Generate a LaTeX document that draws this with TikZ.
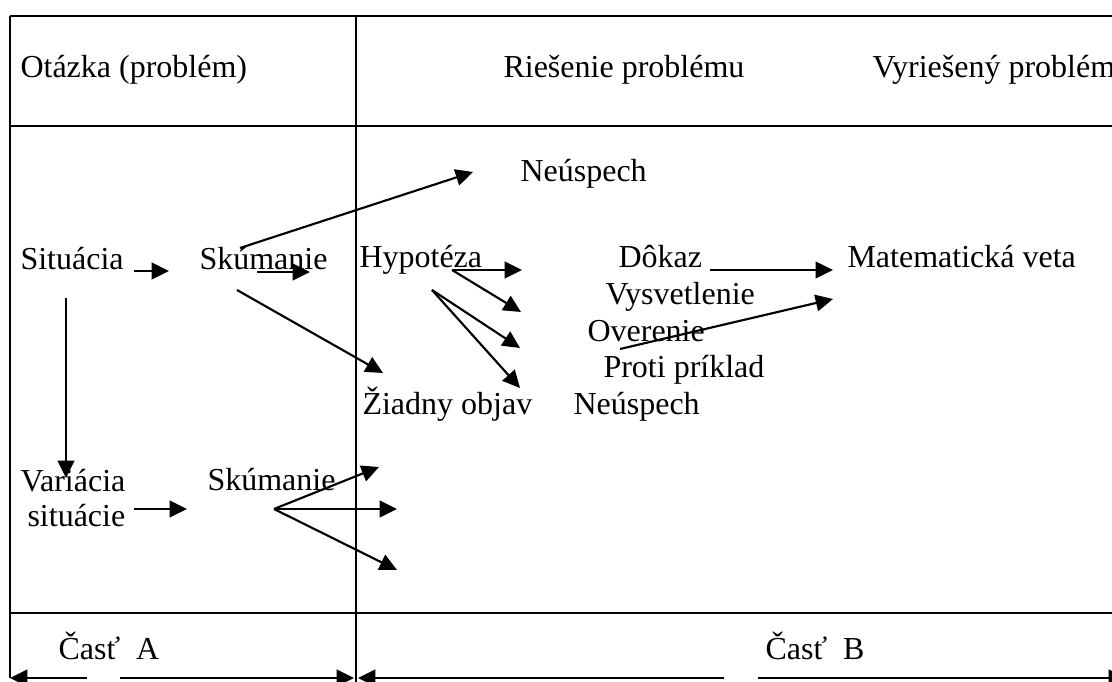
\documentclass[tikz,border=0pt]{standalone}
\usepackage{fontspec}
\setmainfont{Liberation Serif}
\usetikzlibrary{arrows.meta}
\usetikzlibrary{calc}

\begin{document}
\begin{tikzpicture}[x=0.375pt, y=-0.375pt,
    every node/.style={anchor=base west, inner sep=0pt, font=\fontsize{12}{14}\selectfont},
    arr/.style={-{Triangle[length=6.5pt, width=6.2pt]}, line width=0.8pt},
    rule/.style={line width=1pt}]

      \clip (0,0) rectangle (1112,682);

      % table frame
      \draw[rule] (10,16) -- (1120,16);
      \draw[rule] (10,126) -- (1120,126);
      \draw[rule] (10,613) -- (1120,613);
      \draw[rule] (10,16) -- (10,678);
      \draw[rule] (356,16) -- (356,690);

      % header row
      \node (otazka) at (20,78) {Otázka (problém)};
      \node (riesenie) at (503,78) {Riešenie problému};
      \node (vyrieseny) at (872,78) {Vyriešený problém};

      % part A
      \node (situacia) at (20,270) {Situácia};
      \node (skumanie1) at (199,270) {Skúmanie};
      \node (variacia) at (20,492) {Variácia};
      \node (situacie) at (27,527) {situácie};
      \node (skumanie2) at (207,491) {Skúmanie};

      % part B
      \node (neuspech1) at (520,182) {Neúspech};
      \node (hypoteza) at (359,268) {Hypotéza};
      \node (dokaz) at (618,268) {Dôkaz};
      \node (matveta) at (847,268) {Matematická veta};
      \node (vysvetlenie) at (605,305) {Vysvetlenie};
      \node (overenie) at (587,342) {Overenie};
      \node (proti) at (603,378) {Proti príklad};
      \node (ziadny) at (362,415) {Žiadny objav};
      \node (neuspech2) at (573,415) {Neúspech};

      % footer
      \node (castA) at (58,660) {Časť\hspace{3pt} A};
      \node (castB) at (765,660) {Časť\hspace{3pt} B};

      % arrow ends
      \coordinate (sit1) at (134,271);  \coordinate (sit2) at (169,271);
      \coordinate (sk1) at (257,272);   \coordinate (sk2) at (310,272);
      \coordinate (sk3) at (240,248);   \coordinate (neu) at (473,172);
      \coordinate (sk4) at (237,290);   \coordinate (ziad) at (383,373);
      \coordinate (sit3) at (66,298);   \coordinate (var) at (66,478);
      \coordinate (hyp1) at (452,270);  \coordinate (hyp2) at (432,290);
      \coordinate (dok) at (522,270);   \coordinate (vys) at (521,312);
      \coordinate (ove) at (520,348);   \coordinate (pro) at (520,388);
      \coordinate (dok2) at (710,270);  \coordinate (mat1) at (833,270);
      \coordinate (ove2) at (620,349);  \coordinate (mat2) at (833,299);
      \coordinate (var2) at (134,509);  \coordinate (sk5) at (187,509);
      \coordinate (sk6) at (274,509);
      \coordinate (e1) at (379,467);    \coordinate (e2) at (397,509);
      \coordinate (e3) at (397,570);

      \draw[arr] (sit1) -- (sit2);
      \draw[arr] (sk1) -- (sk2);
      \draw[arr] (sk3) -- (neu);
      \draw[arr] (sk4) -- (ziad);
      \draw[arr] (sit3) -- (var);

      \draw[arr] (hyp1) -- (dok);
      \draw[arr] (hyp1) -- (vys);
      \draw[arr] (hyp2) -- (ove);
      \draw[arr] (hyp2) -- (pro);
      \draw[arr] (dok2) -- (mat1);
      \draw[arr] (ove2) -- (mat2);

      \draw[arr] (var2) -- (sk5);
      \foreach \e in {e1, e2, e3} {
        \draw[arr] (sk6) -- (\e);
      }

      % width of the parts
      \coordinate (a0) at (10,678);  \coordinate (a1) at (87,678);
      \coordinate (a2) at (120,678); \coordinate (a3) at (354,678);
      \coordinate (b0) at (358,678); \coordinate (b1) at (724,678);
      \coordinate (b2) at (758,678); \coordinate (b3) at (1126,678);
      \draw[arr] (a1) -- (a0);
      \draw[arr] (a2) -- (a3);
      \draw[arr] (b1) -- (b0);
      \draw[arr] (b2) -- (b3);
    \end{tikzpicture}
\end{document}
